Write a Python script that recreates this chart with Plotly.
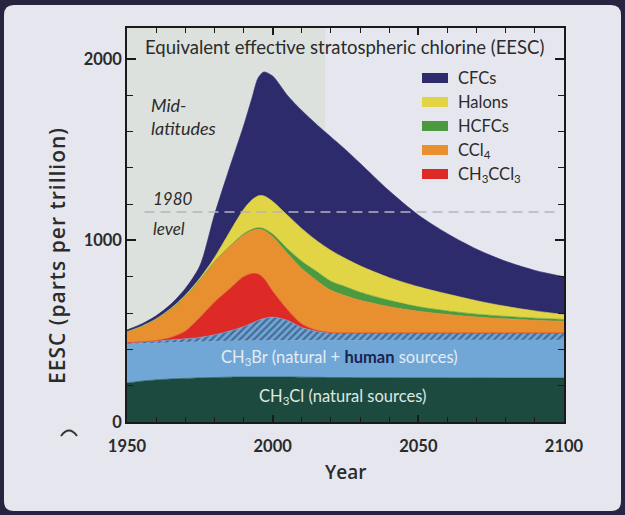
import plotly.graph_objects as go

# EESC contributions (parts per trillion), stacked bottom to top
years = [1950, 1955, 1960, 1965, 1970, 1975, 1980, 1985, 1990, 1993, 1995, 1997,
         2000, 2005, 2010, 2015, 2020, 2025, 2030, 2040, 2050, 2060, 2070, 2080, 2090, 2100]

ch3cl = [215, 225, 232, 237, 240, 243, 245, 247, 248, 248, 248, 248,
         248, 248, 247, 246, 245, 245, 244, 244, 243, 243, 243, 242, 242, 242]
ch3br_natural = [215, 207, 202, 200, 199, 199, 199, 199, 199, 200, 200, 200,
                 201, 201, 203, 204, 205, 205, 206, 207, 208, 209, 209, 210, 210, 210]
ch3br_human = [7, 9, 12, 15, 19, 24, 36, 54, 78, 97, 112, 122,
               129, 111, 70, 50, 42, 40, 40, 39, 39, 38, 38, 38, 38, 38]
ch3ccl3 = [0, 0, 2, 13, 42, 109, 180, 230, 275, 273, 255, 220,
           142, 60, 20, 5, 0, 0, 0, 0, 0, 0, 0, 0, 0, 0]
ccl4 = [60, 84, 117, 155, 190, 205, 220, 230, 230, 237, 247, 265,
        300, 310, 305, 275, 233, 205, 180, 145, 120, 102, 88, 78, 70, 65]
hcfcs = [0, 1, 1, 1, 2, 2, 3, 4, 6, 7, 8, 10,
         15, 25, 40, 50, 50, 50, 45, 35, 25, 20, 16, 14, 12, 10]
halons = [0, 1, 2, 4, 6, 10, 22, 76, 134, 163, 175, 180,
          180, 185, 180, 170, 170, 155, 145, 125, 110, 93, 74, 55, 40, 27]
cfcs = [10, 13, 17, 23, 37, 68, 235, 350, 460, 565, 650, 683,
        690, 660, 650, 640, 625, 600, 565, 478, 395, 332, 284, 248, 223, 208]

level_1980 = 1157
level_years = [1956, 2097]
observed_end = 2018

legend_names = ["CFCs", "Halons", "HCFCs", "CCl<sub>4</sub>", "CH<sub>3</sub>CCl<sub>3</sub>"]
legend_colors = ["#2d2b6b", "#e2d545", "#4c9a3f", "#e8902f", "#dd2a27"]

FONT = "Lato"
TXT = "#2b2b2b"
FRAME = "#28243f"

# plot area in pixels (625 x 515 canvas)
L, R, T, B = 127, 564, 28, 422
W, H = R - L, B - T


def px(x):
    return (x - L) / W


def py(y):
    return (B - y) / H


fig = go.Figure()

layers = [
    ("CH3Cl", ch3cl, "#1d4a3e", None),
    ("CH3Br natural", ch3br_natural, "#70a7d6", None),
    ("CH3Br human", ch3br_human, "#70a7d6",
     dict(shape="/", fgcolor="#1f2f55", bgcolor="#70a7d6", size=5, solidity=0.45)),
    ("CH3CCl3", ch3ccl3, "#dd2a27", None),
    ("CCl4", ccl4, "#e8902f", None),
    ("HCFCs", hcfcs, "#4c9a3f", None),
    ("Halons", halons, "#e2d545", None),
    ("CFCs", cfcs, "#2d2b6b", None),
]

for name, vals, col, pat in layers:
    fig.add_trace(go.Scatter(
        x=years, y=vals, name=name,
        stackgroup="eesc", mode="lines",
        line=dict(width=0.6, color=col, shape="spline", smoothing=0.8),
        fillcolor=col,
        fillpattern=pat,
        showlegend=False,
        hoverinfo="skip",
    ))

# 1980 level
fig.add_trace(go.Scatter(
    x=level_years, y=[level_1980, level_1980], mode="lines",
    line=dict(color="#b4b4bd", width=1.5, dash="10px,6px"),
    showlegend=False, hoverinfo="skip",
))

shapes = []

# card with rounded corners on dark frame
x0, x1 = px(4), px(621)
y0, y1 = py(511), py(5)
rx, ry = 10 / W, 10 / H
card = (f"M{x0 + rx},{y1} L{x1 - rx},{y1} Q{x1},{y1} {x1},{y1 - ry} "
        f"L{x1},{y0 + ry} Q{x1},{y0} {x1 - rx},{y0} "
        f"L{x0 + rx},{y0} Q{x0},{y0} {x0},{y0 + ry} "
        f"L{x0},{y1 - ry} Q{x0},{y1} {x0 + rx},{y1} Z")
shapes.append(dict(type="path", path=card, xref="paper", yref="paper",
                   fillcolor="#e6e7ee", line=dict(width=0), layer="below"))

# shaded observed period
shapes.append(dict(type="rect", xref="x", yref="paper", x0=1950, x1=observed_end,
                   y0=0, y1=1, fillcolor="#dde1dd", line=dict(width=0), layer="below"))

# little stray mark left of the axis
a0, a1, am = px(61), px(77), px(69)
shapes.append(dict(type="path", xref="paper", yref="paper",
                   path=f"M{a0},{py(436)} Q{am},{py(425)} {a1},{py(436)}",
                   line=dict(color="#333333", width=2)))

annotations = []

# legend swatches
for i, (nm, col) in enumerate(zip(legend_names, legend_colors)):
    yc = 78 + i * 24
    shapes.append(dict(type="rect", xref="paper", yref="paper",
                       x0=px(422), x1=px(448), y0=py(yc + 5), y1=py(yc - 5),
                       fillcolor=col, line=dict(width=0)))
    annotations.append(dict(x=px(456), y=py(yc), xref="paper", yref="paper",
                            text=nm, showarrow=False, xanchor="left", yanchor="middle",
                            font=dict(family=FONT, size=16.5, color=TXT)))

annotations += [
    dict(x=2024.7, y=2065, text="Equivalent effective stratospheric chlorine (EESC)",
         showarrow=False, font=dict(family=FONT, size=18.5, color=TXT)),
    dict(x=1957.5, y=1746, text="<i>Mid-</i>", showarrow=False, xanchor="left",
         font=dict(family=FONT, size=18, color=TXT)),
    dict(x=1957.5, y=1619, text="<i>latitudes</i>", showarrow=False, xanchor="left",
         font=dict(family=FONT, size=18, color=TXT)),
    dict(x=1958.3, y=1233, text="<i>1980</i>", showarrow=False, xanchor="left",
         font=dict(family=FONT, size=17, color=TXT)),
    dict(x=1958.3, y=1068, text="<i>level</i>", showarrow=False, xanchor="left",
         font=dict(family=FONT, size=17, color=TXT)),
    dict(x=2022.8, y=358,
         text="CH<sub>3</sub>Br (natural + <span style='color:#1c2350'><b>human</b></span> sources)",
         showarrow=False, font=dict(family=FONT, size=16.5, color="#e4ecf5")),
    dict(x=2023.8, y=138, text="CH<sub>3</sub>Cl (natural sources)",
         showarrow=False, font=dict(family=FONT, size=16.5, color="#dfe7e3")),
    # axis titles
    dict(x=px(345), y=py(487), xref="paper", yref="paper", text="Year",
         showarrow=False, font=dict(family="Open Sans", size=19, color=TXT, weight=600)),
    dict(x=px(41), y=py(256), xref="paper", yref="paper",
         text="<span style='letter-spacing:1px'>EESC (parts per trillion)</span>",
         textangle=-90, showarrow=False,
         font=dict(family="Open Sans", size=21, color=TXT, weight=600)),
]

fig.update_layout(
    width=625, height=515,
    margin=dict(l=L, r=625 - R, t=T, b=515 - B),
    paper_bgcolor=FRAME,
    plot_bgcolor="#e9ebec",
    font=dict(family=FONT, color=TXT),
    shapes=shapes,
    annotations=annotations,
    showlegend=False,
)

fig.update_xaxes(
    range=[1950, 2100], tickvals=[1950, 2000, 2050, 2100],
    showgrid=False, zeroline=False,
    showline=True, linecolor="#1a1a1a", linewidth=1.5, mirror="ticks",
    ticks="inside", ticklen=7, tickwidth=1.5, tickcolor="#1a1a1a",
    minor=dict(dtick=10, ticks="inside", ticklen=5, tickcolor="#1a1a1a", tickwidth=1.2),
    tickfont=dict(family=FONT, size=16.5, color=TXT, weight="bold"),
    ticklabelstandoff=8,
)
fig.update_yaxes(
    range=[0, 2170], tickvals=[0, 1000, 2000],
    showgrid=False, zeroline=False,
    showline=True, linecolor="#1a1a1a", linewidth=1.5, mirror="ticks",
    ticks="inside", ticklen=9, tickwidth=1.5, tickcolor="#1a1a1a",
    minor=dict(dtick=200, ticks="inside", ticklen=6, tickcolor="#1a1a1a", tickwidth=1.2),
    tickfont=dict(family=FONT, size=16.5, color=TXT, weight="bold"),
)

fig.write_html(
    "out.html",
    config={"displayModeBar": False},
    post_script=f"document.body.style.margin='0';document.body.style.background='{FRAME}';",
)
